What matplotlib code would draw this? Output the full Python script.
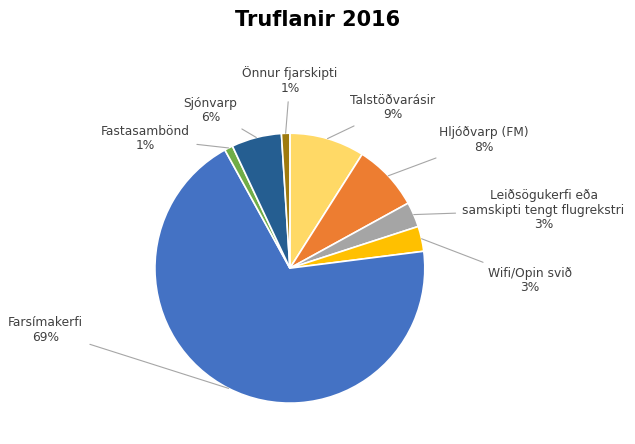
import numpy as np
import matplotlib.pyplot as plt

labels = ['Talstöðvarásir', 'Hljóðvarp (FM)', 'Leiðsögukerfi eða\nsamskipti tengt flugrekstri',
          'Wifi/Opin svið', 'Farsímakerfi', 'Fastasambönd', 'Sjónvarp', 'Önnur fjarskipti']
values = [9, 8, 3, 3, 69, 1, 6, 1]
colors = ['#FFD966', '#ED7D31', '#A5A5A5', '#FFC000', '#4472C4', '#70AD47', '#255E91', '#9E7A0E']
text_pos = [(0.76, 1.19), (1.44, 0.95), (1.88, 0.43), (1.78, -0.09),
            (-1.81, -0.46), (-1.07, 0.96), (-0.59, 1.17), (0.0, 1.39)]

fig = plt.figure(figsize=(6.35, 4.44), dpi=100)
ax = fig.add_axes([0.244, 0.092, 0.425, 0.608])
wedges, _ = ax.pie(values, colors=colors, startangle=90, counterclock=False,
                   wedgeprops=dict(edgecolor='white', linewidth=1.2))
ax.set_xlim(-1, 1)
ax.set_ylim(-1, 1)
ax.set_aspect('equal')

for w, lab, v, pos in zip(wedges, labels, values, text_pos):
    ang = np.deg2rad((w.theta1 + w.theta2) / 2)
    ex, ey = np.cos(ang), np.sin(ang)
    ax.annotate(f'{lab}\n{v}%', xy=(ex, ey), xytext=pos, ha='center', va='center',
                fontsize=8.8, color='#404040', annotation_clip=False,
                linespacing=1.15,
                arrowprops=dict(arrowstyle='-', color='#A6A6A6', lw=0.8,
                                shrinkA=3, shrinkB=0))

fig.text(0.5, 0.955, 'Truflanir 2016', ha='center', va='center',
         fontsize=15, fontweight='bold', color='black')
fig.savefig('out.png', dpi=100)
